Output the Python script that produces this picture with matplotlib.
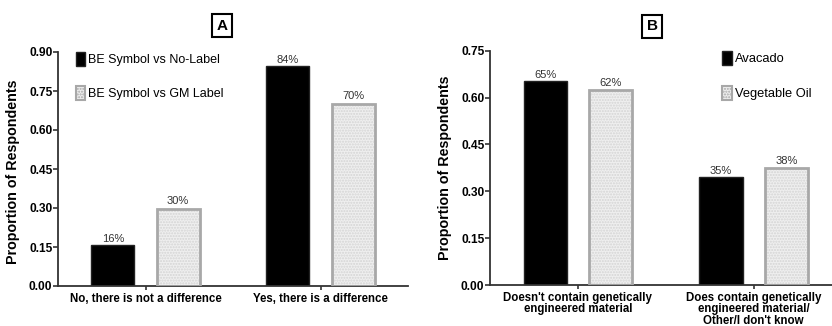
import matplotlib
matplotlib.use("Agg")
import matplotlib.pyplot as plt
import numpy as np
from matplotlib.patches import Patch

plt.rcParams['font.family'] = ['Liberation Sans', 'DejaVu Sans']

# Panel A data
cats_a = ["No, there is not a difference", "Yes, there is a difference"]
series_a = ["BE Symbol vs No-Label", "BE Symbol vs GM Label"]
vals_a_black = [0.156, 0.845]
vals_a_gray = [0.296, 0.700]
labels_a_black = ["16%", "84%"]
labels_a_gray = ["30%", "70%"]
yticks_a = [0.00, 0.15, 0.30, 0.45, 0.60, 0.75, 0.90]

# Panel B data
cats_b = ["Doesn't contain genetically\nengineered material",
          "Does contain genetically\nengineered material/\nOther/I don't know"]
series_b = ["Avacado", "Vegetable Oil"]
vals_b_black = [0.653, 0.346]
vals_b_gray = [0.623, 0.373]
labels_b_black = ["65%", "35%"]
labels_b_gray = ["62%", "38%"]
yticks_b = [0.00, 0.15, 0.30, 0.45, 0.60, 0.75]

W, H = 832, 326
fig = plt.figure(figsize=(W / 100, H / 100), dpi=100)

ax_a = fig.add_axes([58 / W, (H - 286) / H, 350 / W, 234 / H])
ax_b = fig.add_axes([490 / W, (H - 285) / H, 351.5 / W, 234.3 / H])

bw = 0.246
off = 0.186
gray_edge = '#a8a8a8'
gray_face = '#efefef'
spine_col = '#333333'


def draw(ax, cats, blk, gry, lblk, lgry, yticks, ymax, series, leg_anchor, leg_fs):
    x = np.arange(len(cats))
    ax.bar(x - off, blk, width=bw, color='black', edgecolor='#222222', linewidth=1.0, zorder=2)
    # stipple fill for the gray series
    ax.bar(x + off, gry, width=bw, color=gray_face, edgecolor='#d4d4d4', hatch='......',
           linewidth=0, zorder=2)
    ax.bar(x + off, gry, width=bw, fill=False, edgecolor=gray_edge, linewidth=2.0, zorder=3)
    for xi, v, t in zip(x - off, blk, lblk):
        ax.text(xi, v + ymax * 0.005, t, ha='center', va='bottom', fontsize=8, color='#333333')
    for xi, v, t in zip(x + off, gry, lgry):
        ax.text(xi, v + ymax * 0.012, t, ha='center', va='bottom', fontsize=8, color='#333333')
    ax.set_xlim(-0.5, 1.5)
    ax.set_ylim(0, ymax)
    ax.set_yticks(yticks)
    ax.set_yticklabels([f"{t:.2f}" for t in yticks], fontsize=8.6, fontweight='bold')
    ax.set_xticks(x)
    ax.set_xticklabels(cats, fontsize=8.3, fontweight='bold', linespacing=0.95)
    for s in ['top', 'right']:
        ax.spines[s].set_visible(False)
    for s in ['left', 'bottom']:
        ax.spines[s].set_color(spine_col)
        ax.spines[s].set_linewidth(1.3)
    ax.tick_params(axis='y', length=3.5, width=1.2, color=spine_col, pad=0.5)
    ax.tick_params(axis='x', length=3, width=1.2, color=spine_col, pad=2)
    ax.set_ylabel("Proportion of Respondents", fontsize=10.3, fontweight='bold')
    handles = [Patch(facecolor='black', edgecolor='#222222', linewidth=1.0),
               Patch(facecolor=gray_face, edgecolor=gray_edge, linewidth=1.5, hatch='......')]
    ax.legend(handles, series, loc='upper left', bbox_to_anchor=leg_anchor, frameon=False,
              fontsize=leg_fs, handlelength=0.75, handleheight=1.3, handletextpad=0.25,
              labelspacing=1.6, borderaxespad=0, borderpad=0)


draw(ax_a, cats_a, vals_a_black, vals_a_gray, labels_a_black, labels_a_gray, yticks_a, 0.90,
     series_a, (0.051, 1.0), 9)
draw(ax_b, cats_b, vals_b_black, vals_b_gray, labels_b_black, labels_b_gray, yticks_b, 0.75,
     series_b, (0.66, 1.0), 9.3)

ax_a.yaxis.set_label_coords(-0.109, 0.487)
ax_b.yaxis.set_label_coords(-0.108, 0.50)

box = dict(boxstyle='square,pad=0.3', facecolor='white', edgecolor='black', linewidth=1.5)
fig.text(222 / W, 1 - 25.5 / H, "A", ha='center', va='center', fontsize=11, fontweight='bold', bbox=box)
fig.text(652 / W, 1 - 26.5 / H, "B", ha='center', va='center', fontsize=11, fontweight='bold', bbox=box)

fig.savefig("out.png", dpi=100)
